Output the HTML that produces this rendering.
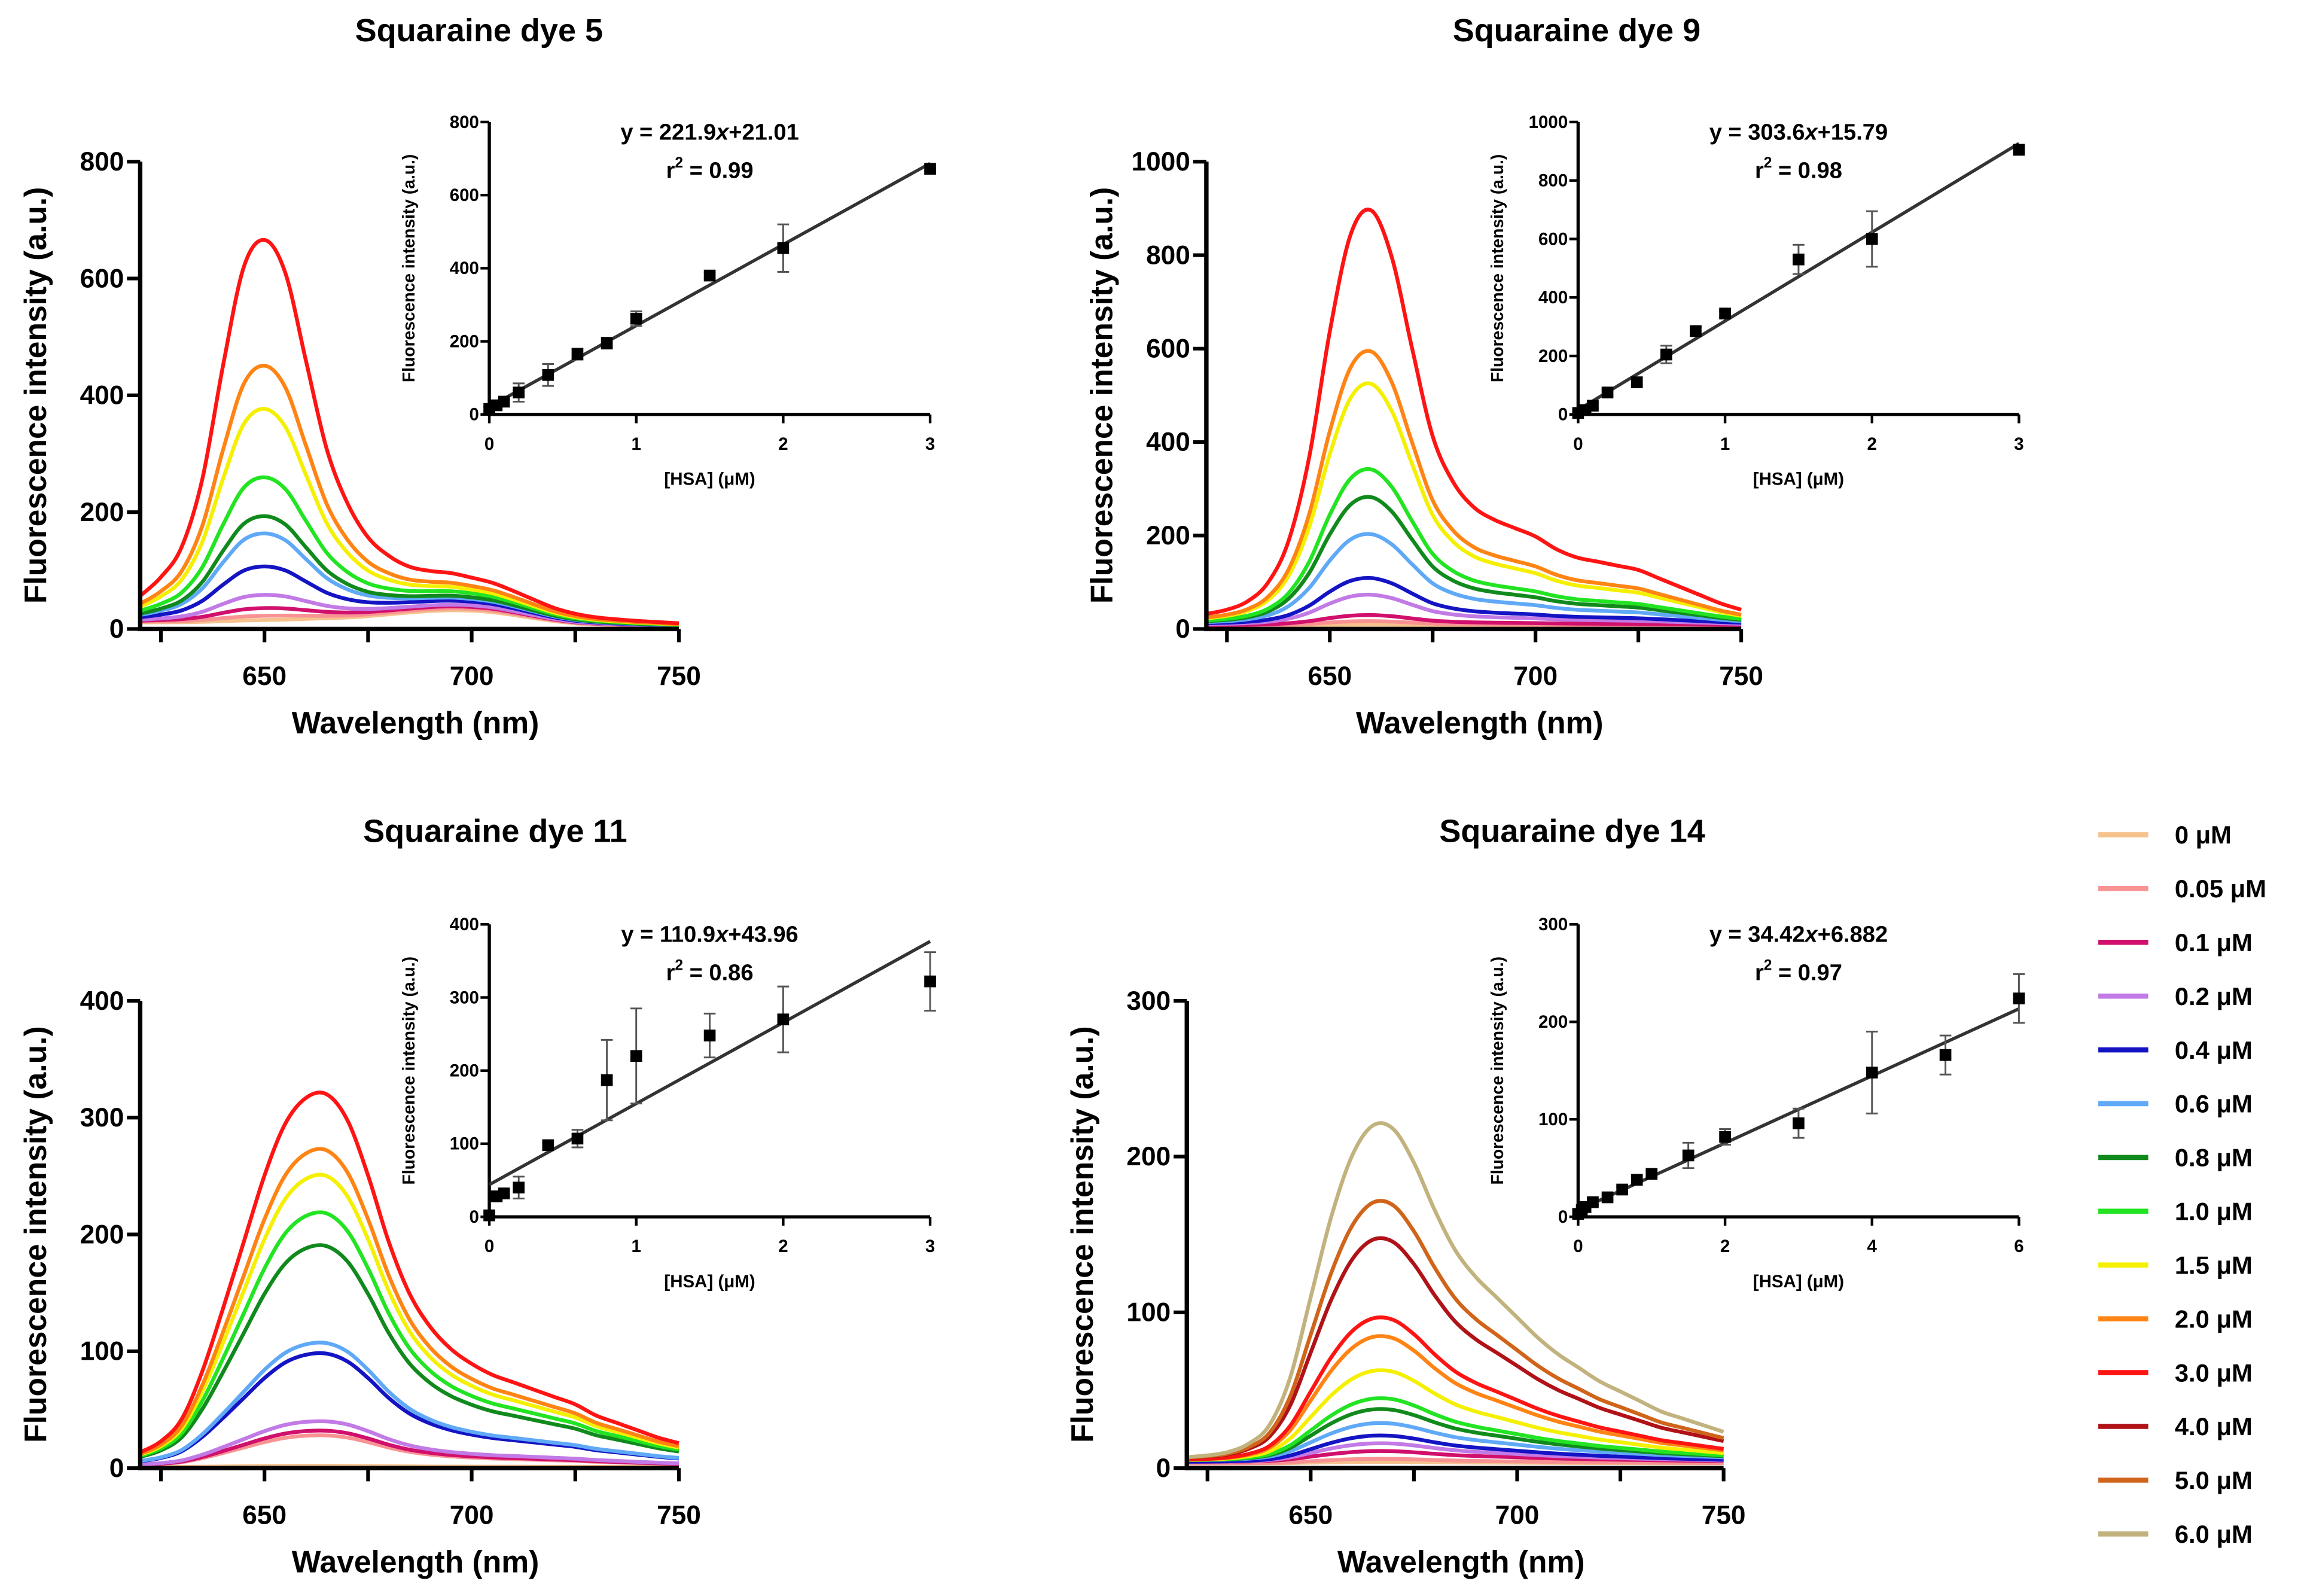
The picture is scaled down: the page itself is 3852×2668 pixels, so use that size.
<!DOCTYPE html>
<html><head><meta charset="utf-8"><style>
html,body{margin:0;padding:0;background:#fff}
svg{display:block}
text{font-family:"Liberation Sans",Arial,sans-serif;font-weight:bold;fill:#000}
</style></head><body>
<svg id="fig" xmlns="http://www.w3.org/2000/svg" width="3852" height="2668" viewBox="0 0 1568 1086">
<rect width="1568" height="1086" fill="#fff"/>
</svg>
<script>
// ---------- data ----------
const wavelengths=[620,625,630,635,640,645,650,655,660,665,670,675,680,685,690,695,700,705,710,715,720,725,730,735,740,745,750];
const concLabels=["0 μM","0.05 μM","0.1 μM","0.2 μM","0.4 μM","0.6 μM","0.8 μM","1.0 μM","1.5 μM","2.0 μM","3.0 μM","4.0 μM","5.0 μM","6.0 μM"];
const concColors=["#f6c28e","#f99393","#d0106c","#c27ae6","#1414c4","#5fa9f7","#118a1d","#22e422","#f4f000","#ff8414","#ff1414","#b01218","#d0641a","#c2b27e"];
// dye 5
const d5Shape=[.05,.1,.18,.36,.66,.92,.99,.9,.66,.42,.27,.17,.11,.07,.05,.04,.03,.025,.02,.015,.01,.008,.005,.004,.003,.002,.001];
const d5Bg=[.35,.35,.35,.36,.38,.4,.42,.45,.5,.55,.6,.68,.78,.88,.96,1,.98,.9,.75,.58,.42,.3,.24,.2,.17,.15,.13];
const d5Peak=[2,8,20,42,89,145,174,239,356,429,643];
const d5Base=[32,35,38,40,45,48,50,55,58,62,70];
// dye 9
const d9Shape=[.025,.035,.055,.1,.2,.4,.7,.93,.99,.88,.66,.45,.34,.28,.25,.23,.21,.18,.16,.15,.14,.13,.11,.09,.07,.05,.035];
const d9Bg=[1,1,1,1,1,1,1,1,1,1,1,1,1,1,1,1,1,1,1,1,1,1,1,1,1,1,1];
const d9Peak=[3,10,22,65,100,195,275,335,520,590,895];
const d9Base=[6,7,8,9,10,10,10,10,10,10,10];
// dye 11
const d11Shape=[.03,.06,.12,.25,.42,.6,.78,.92,.99,1,.93,.78,.6,.46,.37,.31,.27,.24,.22,.2,.18,.16,.13,.11,.09,.07,.055];
const d11Bg=[1,1,1,1,1,1,1,1,1,1,1,1,1,1,1,1,1,1,1,1,1,1,1,1,1,1,1];
const d11Peak=[1,26,30,38,95,104,186,214,246,268,316];
const d11Base=[1,2,2,2,3,3,4,4,4,4,4];
// dye 14
const d14Shape=[.005,.01,.02,.045,.1,.24,.48,.72,.9,.99,.98,.88,.74,.62,.54,.48,.42,.36,.31,.27,.23,.2,.17,.14,.12,.1,.08];
const d14Bg=[1,1,1,1,1,1,1,1,1,1,1,1,1,1,1,1,1,1,1,1,1,1,1,1,1,1,1];
const d14Peak=[1,3,7,12,17,24,33,40,58,80,92,142,166,216];
const d14Base=[3,3,4,4,4,5,5,5,5,5,5,6,6,6];
// insets
const conc11=[0,0.05,0.1,0.2,0.4,0.6,0.8,1.0,1.5,2.0,3.0];
const conc14=[0,0.05,0.1,0.2,0.4,0.6,0.8,1.0,1.5,2.0,3.0,4.0,5.0,6.0];
const i5Y=[15,25,35,60,108,165,195,262,380,455,672];
const i5Err=[5,5,10,25,30,15,15,20,8,65,5];
const i9Y=[5,15,30,75,110,205,285,345,530,600,905];
const i9Err=[5,5,8,10,10,30,15,10,50,95,5];
const i11Y=[2,28,32,40,98,107,187,220,248,270,322];
const i11Err=[3,5,5,15,5,12,55,65,30,45,40];
const i14Y=[3,7,10,15,20,28,38,44,63,82,96,148,166,224];
const i14Err=[1,2,2,3,3,3,3,3,13,8,15,42,20,25];
const fitSlope=[221.9,303.6,110.9,34.42];
const fitIntercept=[21.01,15.79,43.96,6.882];
const fitR2=["0.99","0.98","0.86","0.97"];
const mainYTicks5=[0,200,400,600,800];
const mainYTicks9=[0,200,400,600,800,1000];
const mainYTicks11=[0,100,200,300,400];
const mainYTicks14=[0,100,200,300];
const xTickLabels=[650,700,750];
const insetYTicks5=[0,200,400,600,800];
const insetYTicks9=[0,200,400,600,800,1000];
const insetYTicks11=[0,100,200,300,400];
const insetYTicks14=[0,100,200,300];
const insetXTicks3=[0,1,2,3];
const insetXTicks6=[0,2,4,6];

// ---------- drawing ----------
const svg=document.getElementById('fig');
const NS="http://www.w3.org/2000/svg";
function mk(tag,attrs,parent){const e=document.createElementNS(NS,tag);for(const k in attrs)e.setAttribute(k,attrs[k]);(parent||svg).appendChild(e);return e;}
function txt(s,x,y,size,anchor,parent,rot){const t=mk('text',{x:x,y:y,'font-size':size,'text-anchor':anchor||'middle'},parent);if(rot)t.setAttribute('transform','rotate(-90 '+x+' '+y+')');t.textContent=s;return t;}
function smooth(pts){let d='M'+pts[0][0].toFixed(2)+','+pts[0][1].toFixed(2);for(let i=0;i<pts.length-1;i++){const p0=pts[Math.max(0,i-1)],p1=pts[i],p2=pts[i+1],p3=pts[Math.min(pts.length-1,i+2)];const c1=[p1[0]+(p2[0]-p0[0])/6,p1[1]+(p2[1]-p0[1])/6],c2=[p2[0]-(p3[0]-p1[0])/6,p2[1]-(p3[1]-p1[1])/6];d+=' C'+c1[0].toFixed(2)+','+c1[1].toFixed(2)+' '+c2[0].toFixed(2)+','+c2[1].toFixed(2)+' '+p2[0].toFixed(2)+','+p2[1].toFixed(2);}return d;}

const panels=[
 {name:'dye-5',title:'Squaraine dye 5',tx:326,ty:28,x650:180,x750:462,y0:428,yTop:110,ymax:800,ticks:mainYTicks5,shape:d5Shape,bg:d5Bg,peak:d5Peak,base:d5Base,
  ins:{x0:333,x1:633,y0:282,y1:83,xmax:3,ymax:800,xt:insetXTicks3,yt:insetYTicks5,cx:conc11,cy:i5Y,err:i5Err}},
 {name:'dye-9',title:'Squaraine dye 9',tx:1073,ty:28,x650:905,x750:1185,y0:428,yTop:110,ymax:1000,ticks:mainYTicks9,shape:d9Shape,bg:d9Bg,peak:d9Peak,base:d9Base,
  ins:{x0:1074,x1:1374,y0:282,y1:83,xmax:3,ymax:1000,xt:insetXTicks3,yt:insetYTicks9,cx:conc11,cy:i9Y,err:i9Err}},
 {name:'dye-11',title:'Squaraine dye 11',tx:337,ty:573,x650:180,x750:462,y0:999,yTop:681,ymax:400,ticks:mainYTicks11,shape:d11Shape,bg:d11Bg,peak:d11Peak,base:d11Base,
  ins:{x0:333,x1:633,y0:828,y1:629,xmax:3,ymax:400,xt:insetXTicks3,yt:insetYTicks11,cx:conc11,cy:i11Y,err:i11Err}},
 {name:'dye-14',title:'Squaraine dye 14',tx:1070,ty:573,x650:892,x750:1173,y0:999,yTop:681,ymax:300,ticks:mainYTicks14,shape:d14Shape,bg:d14Bg,peak:d14Peak,base:d14Base,
  ins:{x0:1074,x1:1374,y0:828,y1:629,xmax:6,ymax:300,xt:insetXTicks6,yt:insetYTicks14,cx:conc14,cy:i14Y,err:i14Err}}
];

panels.forEach((p,pi)=>{
  const g=mk('g',{});
  
  
  const ppn=(p.x750-p.x650)/100;
  const X=w=>p.x650+(w-650)*ppn;
  const Y=v=>p.y0-(v/p.ymax)*(p.y0-p.yTop);
  const x620=X(620);
  const t=txt(p.title,p.tx,p.ty,22,'middle',g);
  
  
  const sg=mk('g',{},g);
  
  
  for(let s=0;s<p.peak.length;s++){
    const pts=wavelengths.map((w,i)=>[X(w),Y(p.peak[s]*p.shape[i]+p.base[s]*p.bg[i])]);
    const path=mk('path',{d:smooth(pts),fill:'none',stroke:concColors[s],'stroke-width':2.6,'stroke-linejoin':'round'},sg);
    
    
  }
  const ax=mk('path',{d:'M'+x620+','+p.yTop+' L'+x620+','+p.y0+' L'+p.x750+','+p.y0,fill:'none',stroke:'#000','stroke-width':3},g);
  
  
  for(let w=625;w<=750;w+=25){mk('line',{x1:X(w),y1:p.y0,x2:X(w),y2:p.y0+9,stroke:'#000','stroke-width':2.5},g);}
  xTickLabels.forEach(v=>{const l=txt(String(v),X(v),p.y0+38,18,'middle',g);});
  p.ticks.forEach(v=>{mk('line',{x1:x620-9,y1:Y(v),x2:x620,y2:Y(v),stroke:'#000','stroke-width':2.5},g);const l=txt(String(v),x620-11,Y(v)+6,18,'end',g);});
  const xt=txt('Wavelength (nm)',(x620+p.x750)/2+4,p.y0+71,21,'middle',g);
  
  
  const yt=txt('Fluorescence intensity (a.u.)',x620-64,(p.y0+p.yTop)/2,21,'middle',g,true);
  
  
  const q=p.ins;
  const ig=mk('g',{},g);
  
  
  const IX=v=>q.x0+(v/q.xmax)*(q.x1-q.x0);
  const IY=v=>q.y0-(v/q.ymax)*(q.y0-q.y1);
  mk('path',{d:'M'+q.x0+','+q.y1+' L'+q.x0+','+q.y0+' L'+q.x1+','+q.y0,fill:'none',stroke:'#000','stroke-width':2.2},ig);
  q.yt.forEach(v=>{mk('line',{x1:q.x0-6,y1:IY(v),x2:q.x0,y2:IY(v),stroke:'#000','stroke-width':1.8},ig);txt(String(v),q.x0-7,IY(v)+4,12,'end',ig);});
  q.xt.forEach(v=>{mk('line',{x1:IX(v),y1:q.y0,x2:IX(v),y2:q.y0+6,stroke:'#000','stroke-width':1.8},ig);txt(String(v),IX(v),q.y0+24,12,'middle',ig);});
  txt('[HSA] (μM)',(q.x0+q.x1)/2,q.y0+48,12,'middle',ig);
  txt('Fluorescence intensity (a.u.)',q.x0-51,(q.y0+q.y1)/2,11.5,'middle',ig,true).setAttribute('font-weight','normal');
  const fl=mk('line',{x1:IX(0),y1:IY(fitIntercept[pi]),x2:IX(q.xmax),y2:IY(fitIntercept[pi]+fitSlope[pi]*q.xmax),stroke:'#333','stroke-width':2.2},ig);
  
  
  q.cx.forEach((c,i)=>{
    const x=IX(c),y=IY(q.cy[i]),e=q.err[i];
    const eb=mk('path',{d:'M'+x+','+IY(q.cy[i]-e)+' L'+x+','+IY(q.cy[i]+e)+' M'+(x-4)+','+IY(q.cy[i]-e)+' L'+(x+4)+','+IY(q.cy[i]-e)+' M'+(x-4)+','+IY(q.cy[i]+e)+' L'+(x+4)+','+IY(q.cy[i]+e),stroke:'#555','stroke-width':1.2,fill:'none'},ig);
    
    
    const pt=mk('rect',{x:x-4,y:y-4,width:8,height:8,fill:'#000'},ig);
    
    
  });
  const eq=mk('text',{x:(q.x0+q.x1)/2,y:q.y1+12,'font-size':15.5,'text-anchor':'middle'},ig);
  
  
  eq.innerHTML='y = '+fitSlope[pi]+'<tspan font-style="italic">x</tspan>+'+fitIntercept[pi];
  const r2=mk('text',{x:(q.x0+q.x1)/2,y:q.y1+38,'font-size':15.5,'text-anchor':'middle'},ig);
  
  
  r2.innerHTML='r<tspan dy="-7" font-size="10">2</tspan><tspan dy="7"> = '+fitR2[pi]+'</tspan>';
});

const lg=mk('g',{});


concLabels.forEach((l,i)=>{
  const y=568+i*36.6;
  const e=mk('g',{},lg);
  
  
  mk('line',{x1:1428,y1:y,x2:1462,y2:y,stroke:concColors[i],'stroke-width':3.5},e);
  txt(l,1480,y+6,17,'start',e);
});
</script>
</body></html>
